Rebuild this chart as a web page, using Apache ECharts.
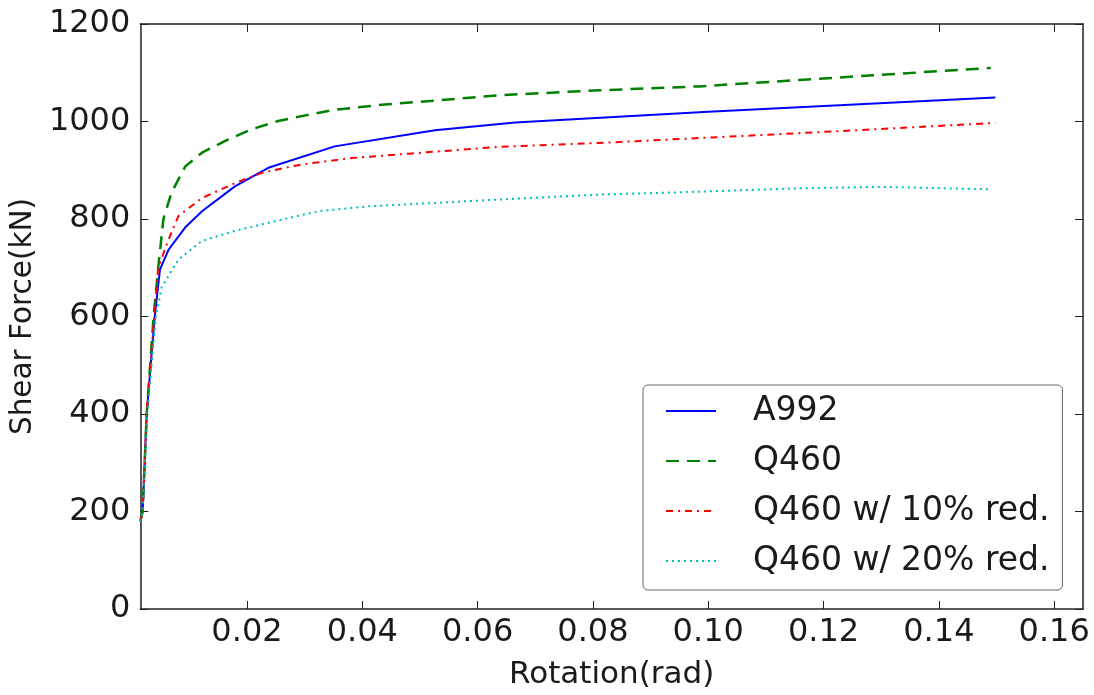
<!DOCTYPE html>
<html>
<head>
<meta charset="utf-8">
<script src="https://cdn.jsdelivr.net/npm/echarts@6/dist/echarts.min.js"></script>
<style>
html,body{margin:0;padding:0;background:#fff;}
#chart{width:1094px;height:695px;}
</style>
</head>
<body>
<div id="chart"></div>
<script>
// ---- data ----
const seriesNames = ['A992', 'Q460', 'Q460 w/ 10% red.', 'Q460 w/ 20% red.'];

const a992X = [0.0015, 0.0019, 0.0026, 0.0040, 0.0049, 0.0064, 0.0093, 0.0122, 0.0179, 0.0237, 0.0352, 0.0526, 0.0665, 0.1000, 0.1498];
const a992Y = [180, 200, 400, 600, 696, 737, 783, 816, 867, 905, 949, 982, 998, 1020, 1049];

const q460X = [0.0015, 0.0019, 0.0026, 0.0038, 0.0046, 0.0055, 0.0069, 0.0093, 0.0122, 0.0165, 0.0208, 0.0254, 0.0295, 0.0352, 0.0439, 0.0526, 0.0638, 0.0811, 0.0984, 0.1157, 0.1490];
const q460Y = [180, 200, 400, 600, 700, 800, 854, 908, 936, 962, 984, 1001, 1011, 1024, 1035, 1043, 1054, 1064, 1072, 1085, 1110];

const q460r10X = [0.0015, 0.0019, 0.0026, 0.0039, 0.0046, 0.0064, 0.0081, 0.0122, 0.0180, 0.0226, 0.0295, 0.0381, 0.0480, 0.0638, 0.0811, 0.0984, 0.1157, 0.1498];
const q460r10Y = [180, 200, 400, 600, 700, 758, 806, 843, 874, 895, 912, 925, 934, 948, 956, 966, 976, 997];

const q460r20X = [0.0015, 0.0019, 0.0027, 0.0042, 0.0052, 0.0081, 0.0122, 0.0180, 0.0254, 0.0324, 0.0410, 0.0526, 0.0638, 0.0811, 0.0984, 0.1157, 0.1300, 0.1487];
const q460r20Y = [180, 200, 400, 600, 660, 717, 755, 776, 797, 816, 826, 833, 840, 850, 856, 863, 866, 861];

const xTicks = [0.02, 0.04, 0.06, 0.08, 0.10, 0.12, 0.14, 0.16];
const yTicks = [0, 200, 400, 600, 800, 1000, 1200];

// ---- chart ----
const FONT = 'DejaVu Sans';
const TXT = '#1a1a1a';
const zip = (xs, ys) => xs.map((x, i) => [x, ys[i]]);

const xCommon = {
  type: 'value', min: 0.0015, max: 0.165,
  splitLine: { show: false },
  axisLine: { show: true, onZero: false, lineStyle: { color: '#222', width: 1.5 } },
  axisTick: { show: true, inside: true, length: 8, customValues: xTicks, lineStyle: { color: '#222', width: 1 } }
};
const yCommon = {
  type: 'value', min: 0, max: 1200, interval: 200,
  splitLine: { show: false },
  axisLine: { show: true, onZero: false, lineStyle: { color: '#222', width: 1.5 } },
  axisTick: { show: true, inside: true, length: 8, customValues: yTicks, lineStyle: { color: '#222', width: 1 } }
};

const option = {
  backgroundColor: '#fff',
  animation: false,
  textStyle: { fontFamily: FONT },
  grid: { left: 140, right: 11, top: 24, bottom: 86, containLabel: false },
  legend: {
    orient: 'vertical',
    left: 643, top: 385,
    data: seriesNames,
    itemWidth: 50, itemHeight: 14,
    itemGap: 10,
    padding: [6, 13, 9, 22],
    borderColor: '#666', borderWidth: 1, borderRadius: 5,
    backgroundColor: '#fff',
    itemStyle: { opacity: 0 },
    textStyle: { fontFamily: FONT, fontSize: 33, color: TXT, lineHeight: 40, padding: [0, 0, 0, 32] }
  },
  xAxis: [
    Object.assign({}, xCommon, {
      position: 'bottom',
      name: 'Rotation(rad)', nameLocation: 'middle', nameGap: 50,
      nameTextStyle: { fontFamily: FONT, fontSize: 31, color: TXT },
      axisLabel: { show: true, customValues: xTicks, margin: 8, fontFamily: FONT, fontSize: 32, color: TXT,
        formatter: v => v.toFixed(2) }
    }),
    Object.assign({}, xCommon, { position: 'top', axisLabel: { show: false } })
  ],
  yAxis: [
    Object.assign({}, yCommon, {
      position: 'left',
      name: 'Shear Force(kN)', nameLocation: 'middle', nameGap: 89,
      nameTextStyle: { fontFamily: FONT, fontSize: 29.5, color: TXT },
      axisLabel: { show: true, customValues: yTicks, margin: 10, fontFamily: FONT, fontSize: 32, color: TXT,
        formatter: v => String(v) }
    }),
    Object.assign({}, yCommon, { position: 'right', axisLabel: { show: false } })
  ],
  series: [
    { name: seriesNames[0], type: 'line', data: zip(a992X, a992Y), symbol: 'none', smooth: false,
      color: '#0000ff', lineStyle: { color: '#0000ff', width: 2 } },
    { name: seriesNames[1], type: 'line', data: zip(q460X, q460Y), symbol: 'none', smooth: false,
      color: '#008000', lineStyle: { color: '#008000', width: 2.5, type: [13, 8] } },
    { name: seriesNames[2], type: 'line', data: zip(q460r10X, q460r10Y), symbol: 'none', smooth: false,
      color: '#ff0000', lineStyle: { color: '#ff0000', width: 2, type: [7, 5, 2, 5] } },
    { name: seriesNames[3], type: 'line', data: zip(q460r20X, q460r20Y), symbol: 'none', smooth: false,
      color: '#00bfbf', lineStyle: { color: '#00bfbf', width: 2, type: [2, 4] } }
  ]
};

const chart = echarts.init(document.getElementById('chart'), null, { renderer: 'canvas' });
chart.setOption(option);
</script>
</body>
</html>
